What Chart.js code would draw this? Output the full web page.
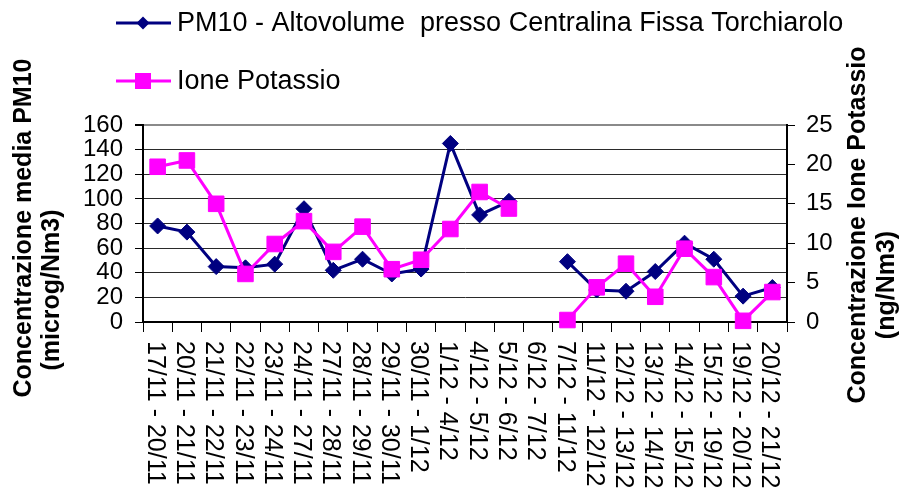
<!DOCTYPE html>
<html>
<head>
<meta charset="utf-8">
<script src="https://cdn.jsdelivr.net/npm/chart.js@4.4.1/dist/chart.umd.min.js"></script>
<style>
    html, body { margin: 0; padding: 0; background: #ffffff; }
    #wrap { width: 906px; height: 491px; position: relative; }
</style>
</head>
<body>
<div id="wrap"><canvas id="pmChart" width="906" height="491"></canvas></div>
<script>
// Periodi di campionamento
const periodLabels = [
    '17/11 - 20/11', '20/11 - 21/11', '21/11 - 22/11', '22/11 - 23/11', '23/11 - 24/11',
    '24/11 - 27/11', '27/11 - 28/11', '28/11 - 29/11', '29/11 - 30/11', '30/11 - 1/12',
    '1/12 - 4/12', '4/12 - 5/12', '5/12 - 6/12', '6/12 - 7/12', '7/12 - 11/12',
    '11/12 - 12/12', '12/12 - 13/12', '13/12 - 14/12', '14/12 - 15/12', '15/12 - 19/12',
    '19/12 - 20/12', '20/12 - 21/12'
];

// PM10 (microg/Nm3) - asse sinistro
const pm10Values = [78, 73, 45, 44, 47, 92, 42, 51, 39, 43, 145, 87, 98, null, 49, 26, 25, 41, 64, 51, 21, 28];

// Ione Potassio (ng/Nm3) - asse destro
const potassioValues = [19.7, 20.5, 15.0, 6.1, 9.9, 12.8, 8.9, 12.1, 6.7, 7.9, 11.8, 16.5, 14.4, null, 0.25, 4.4, 7.4, 3.2, 9.3, 5.7, 0.15, 3.8];

const leftTicks = [0, 20, 40, 60, 80, 100, 120, 140, 160];
const rightTicks = [0, 5, 10, 15, 20, 25];

const NAVY = '#000080';
const MAGENTA = '#FF00FF';
const FONT = '"Liberation Sans", Arial, sans-serif';

// Legend, axis titles and vertical x labels drawn by hand (Excel style)
const excelDecorations = {
    id: 'excelDecorations',
    afterDraw(chart) {
        const ctx = chart.ctx;
        const xScale = chart.scales.x;
        ctx.save();

        // legend
        const legendItems = [
            { text: 'PM10 - Altovolume  presso Centralina Fissa Torchiarolo', color: NAVY, style: 'diamond', y: 23 },
            { text: 'Ione Potassio', color: MAGENTA, style: 'square', y: 81 }
        ];
        legendItems.forEach(item => {
            ctx.strokeStyle = item.color;
            ctx.fillStyle = item.color;
            ctx.lineWidth = 3;
            ctx.beginPath();
            ctx.moveTo(116, item.y);
            ctx.lineTo(171, item.y);
            ctx.stroke();
            ctx.beginPath();
            if (item.style === 'diamond') {
                ctx.moveTo(143, item.y - 6.5);
                ctx.lineTo(149.5, item.y);
                ctx.lineTo(143, item.y + 6.5);
                ctx.lineTo(136.5, item.y);
                ctx.closePath();
            } else {
                ctx.rect(135, item.y - 8, 16, 16);
            }
            ctx.fill();
            ctx.fillStyle = '#000000';
            ctx.font = '27px ' + FONT;
            ctx.textAlign = 'left';
            ctx.textBaseline = 'middle';
            ctx.fillText(item.text, 177, item.y + 1);
        });

        // axis titles (rotated)
        const titles = [
            { text: 'Concentrazione media PM10', x: 24, y: 228 },
            { text: '(microg/Nm3)', x: 52, y: 290 },
            { text: 'Concentrazione Ione Potassio', x: 858, y: 225 },
            { text: '(ng/Nm3)', x: 887, y: 285 }
        ];
        ctx.font = 'bold 25px ' + FONT;
        ctx.fillStyle = '#000000';
        ctx.textAlign = 'center';
        ctx.textBaseline = 'middle';
        titles.forEach(t => {
            ctx.save();
            ctx.translate(t.x, t.y);
            ctx.rotate(-Math.PI / 2);
            ctx.fillText(t.text, 0, 0);
            ctx.restore();
        });

        // x labels, reading top to bottom
        ctx.font = '25px ' + FONT;
        ctx.textAlign = 'left';
        ctx.textBaseline = 'middle';
        periodLabels.forEach((label, i) => {
            const x = xScale.getPixelForTick(i) - 3;
            ctx.save();
            ctx.translate(x, 341);
            ctx.rotate(Math.PI / 2);
            ctx.fillText(label, 0, 0);
            ctx.restore();
        });

        ctx.restore();
    }
};

const ctx = document.getElementById('pmChart').getContext('2d');

new Chart(ctx, {
    type: 'line',
    data: {
        labels: periodLabels,
        datasets: [
            {
                label: 'PM10 - Altovolume  presso Centralina Fissa Torchiarolo',
                data: pm10Values,
                yAxisID: 'y',
                borderColor: NAVY,
                backgroundColor: NAVY,
                borderWidth: 3,
                pointStyle: 'rectRot',
                pointRadius: 8,
                pointBorderWidth: 1,
                tension: 0,
                spanGaps: false,
                clip: false,
                order: 1
            },
            {
                label: 'Ione Potassio',
                data: potassioValues,
                yAxisID: 'y1',
                borderColor: MAGENTA,
                backgroundColor: MAGENTA,
                borderWidth: 3,
                pointStyle: 'rect',
                pointRadius: 11,
                pointBorderWidth: 1,
                tension: 0,
                spanGaps: false,
                clip: false,
                order: 0
            }
        ]
    },
    options: {
        responsive: false,
        animation: false,
        layout: { padding: { top: 125, left: 0, right: 0, bottom: 0 } },
        plugins: {
            legend: { display: false },
            tooltip: { enabled: false }
        },
        scales: {
            x: {
                type: 'category',
                offset: true,
                grid: {
                    display: true,
                    drawOnChartArea: false,
                    offset: true,
                    tickLength: 10,
                    color: '#000000',
                    lineWidth: 1
                },
                border: { display: true, color: '#000000', width: 2 },
                ticks: { display: false },
                afterFit(scale) { scale.height = 169; }
            },
            y: {
                position: 'left',
                min: 0,
                max: 160,
                afterBuildTicks(scale) { scale.ticks = leftTicks.map(v => ({ value: v })); },
                grid: {
                    color: c => (c.tick && c.tick.value === 160 ? '#8a8a8a' : '#2a2a2a'),
                    lineWidth: c => (c.tick && c.tick.value === 160 ? 2 : 1),
                    tickColor: '#000000',
                    tickLength: 8
                },
                border: { display: true, color: '#000000', width: 2 },
                ticks: {
                    color: '#000000',
                    padding: 12,
                    autoSkip: false,
                    font: { family: FONT, size: 24 }
                },
                afterFit(scale) { scale.width = 143; }
            },
            y1: {
                position: 'right',
                min: 0,
                max: 25,
                afterBuildTicks(scale) { scale.ticks = rightTicks.map(v => ({ value: v })); },
                grid: {
                    drawOnChartArea: false,
                    color: '#000000',
                    tickColor: '#000000',
                    tickLength: 8
                },
                border: { display: true, color: '#000000', width: 2 },
                ticks: {
                    color: '#000000',
                    padding: 11,
                    autoSkip: false,
                    font: { family: FONT, size: 24 }
                },
                afterFit(scale) { scale.width = 119; }
            }
        }
    },
    plugins: [excelDecorations]
});
</script>
</body>
</html>
